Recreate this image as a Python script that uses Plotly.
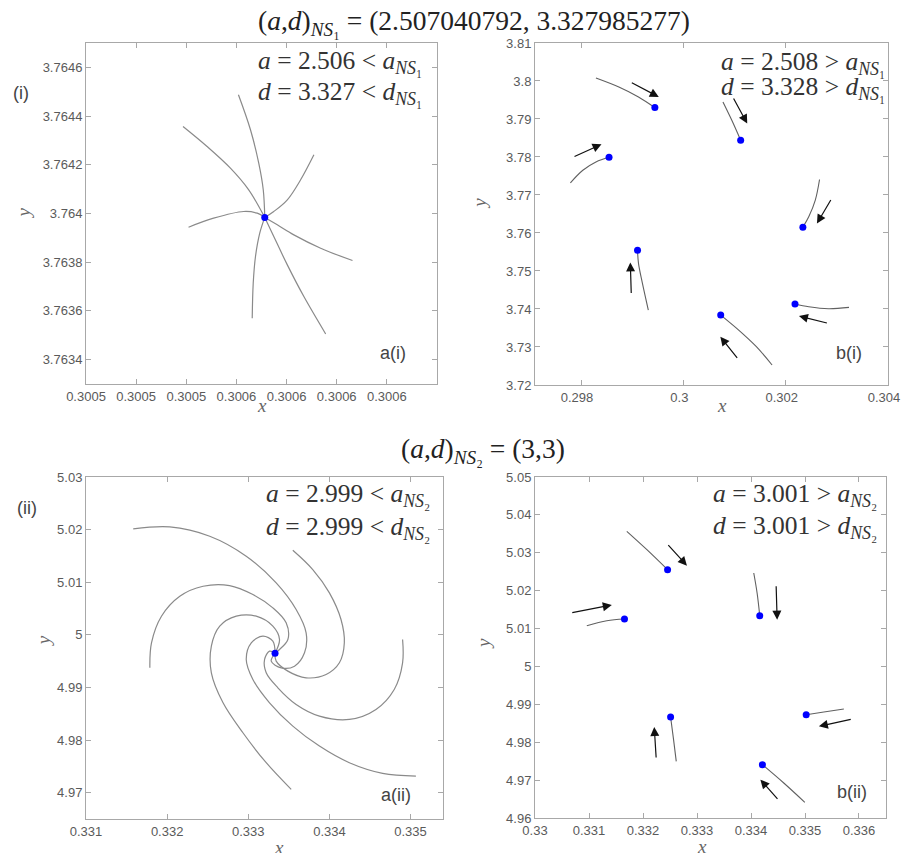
import plotly.graph_objects as go

# ---------------- Panel a(i) ----------------
ai_fixed_x = [0.3005713]
ai_fixed_y = [3.763984]
ai_curves_x = [
    [0.3005387, 0.3005483, 0.3005576, 0.3005649, 0.3005713],
    [0.3005608, 0.3005656, 0.3005689, 0.3005707, 0.3005713],
    [0.3005909, 0.3005856, 0.3005803, 0.3005749, 0.3005713],
    [0.3005409, 0.3005509, 0.3005629, 0.3005683, 0.3005713],
    [0.3006063, 0.3005936, 0.3005829, 0.3005763, 0.3005713],
    [0.3005663, 0.3005667, 0.3005676, 0.3005693, 0.3005713],
    [0.3005956, 0.3005869, 0.3005803, 0.3005749, 0.3005713],
]
ai_curves_y = [
    [3.7643575, 3.7642753, 3.7641863, 3.7640973, 3.763984],
    [3.7644877, 3.7643440, 3.7642068, 3.7640973, 3.763984],
    [3.7642411, 3.7641384, 3.7640562, 3.7640082, 3.763984],
    [3.7639438, 3.7639808, 3.7640082, 3.7640014, 3.763984],
    [3.7638068, 3.7638575, 3.7639123, 3.7639534, 3.763984],
    [3.7635699, 3.7637137, 3.7638233, 3.7639192, 3.763984],
    [3.7635055, 3.7636589, 3.7637890, 3.7639055, 3.763984],
]
ai_xticks = [0.30050, 0.30052, 0.30054, 0.30056, 0.30058, 0.30060, 0.30062]
ai_xticklabels = ["0.3005", "0.3005", "0.3005", "0.3006", "0.3006", "0.3006", "0.3006"]
ai_yticks = [3.7634, 3.7636, 3.7638, 3.7640, 3.7642, 3.7644, 3.7646]
ai_yticklabels = ["3.7634", "3.7636", "3.7638", "3.764", "3.7642", "3.7644", "3.7646"]

# ---------------- Panel b(i) ----------------
bi_fixed_x = [0.299443, 0.301120, 0.298547, 0.302336, 0.299104, 0.302182, 0.300730]
bi_fixed_y = [3.79300, 3.78441, 3.77994, 3.76154, 3.75549, 3.74130, 3.73840]
bi_curves_x = [
    [0.298291, 0.298739, 0.299123, 0.299443],
    [0.300774, 0.300947, 0.301120],
    [0.297792, 0.298035, 0.298291, 0.298547],
    [0.302662, 0.302579, 0.302451, 0.302336],
    [0.299315, 0.299200, 0.299123, 0.299104],
    [0.303238, 0.302835, 0.302451, 0.302182],
    [0.301734, 0.301427, 0.301043, 0.300730],
]
bi_curves_y = [
    [3.80080, 3.79843, 3.79580, 3.79300],
    [3.79449, 3.78967, 3.78441],
    [3.77320, 3.77652, 3.77871, 3.77994],
    [3.77407, 3.76864, 3.76425, 3.76154],
    [3.73972, 3.74673, 3.75199, 3.75549],
    [3.74042, 3.74007, 3.74059, 3.74130],
    [3.72526, 3.73008, 3.73490, 3.73840],
]
bi_arrow_tail_x = [0.298963, 0.300966, 0.297843, 0.302899, 0.298982, 0.302835, 0.301075]
bi_arrow_tail_y = [3.79975, 3.79580, 3.77994, 3.76907, 3.74384, 3.73621, 3.72675]
bi_arrow_head_x = [0.299520, 0.301248, 0.298400, 0.302611, 0.298963, 0.302259, 0.300723]
bi_arrow_head_y = [3.79580, 3.78879, 3.78336, 3.76250, 3.75225, 3.73814, 3.73271]
bi_xticks = [0.298, 0.300, 0.302, 0.304]
bi_xticklabels = ["0.298", "0.3", "0.302", "0.304"]
bi_yticks = [3.72, 3.73, 3.74, 3.75, 3.76, 3.77, 3.78, 3.79, 3.80, 3.81]
bi_yticklabels = ["3.72", "3.73", "3.74", "3.75", "3.76", "3.77", "3.78", "3.79", "3.8", "3.81"]

# ---------------- Panel a(ii) ----------------
aii_fixed_x = [0.33333]
aii_fixed_y = [4.9965]
aii_curves_x = [
    [0.331582, 0.332033, 0.332525, 0.332975, 0.333344, 0.333590, 0.333713, 0.333693, 0.333570, 0.333406, 0.333283, 0.33333],
    [0.333549, 0.333795, 0.334000, 0.334143, 0.334184, 0.334123, 0.333959, 0.333713, 0.333488, 0.333344, 0.33333],
    [0.334902, 0.334902, 0.334799, 0.334574, 0.334246, 0.333877, 0.333590, 0.333365, 0.333221, 0.333201, 0.333262, 0.33333],
    [0.335066, 0.334656, 0.334246, 0.333877, 0.333549, 0.333262, 0.333057, 0.332975, 0.333037, 0.333180, 0.333303, 0.33333],
    [0.333529, 0.333221, 0.332934, 0.332689, 0.332545, 0.332545, 0.332648, 0.332852, 0.333098, 0.333303, 0.333385, 0.33333],
    [0.331787, 0.331807, 0.331930, 0.332156, 0.332443, 0.332770, 0.333057, 0.333303, 0.333467, 0.333488, 0.333385, 0.33333],
]
aii_curves_y = [
    [5.020127, 5.020506, 5.018734, 5.014937, 5.009873, 5.004810, 5.000380, 4.996582, 4.994051, 4.993734, 4.995000, 4.9965],
    [5.016076, 5.012405, 5.007975, 5.002911, 4.998481, 4.994684, 4.992468, 4.991835, 4.993101, 4.995000, 4.9965],
    [4.999114, 4.994684, 4.989620, 4.985823, 4.983924, 4.984557, 4.986772, 4.989937, 4.992785, 4.995316, 4.996899, 4.9965],
    [4.973165, 4.973671, 4.975696, 4.978861, 4.982658, 4.987089, 4.991519, 4.995316, 4.998481, 4.999747, 4.998797, 4.9965],
    [4.970633, 4.975696, 4.981392, 4.987089, 4.992785, 4.997848, 5.001646, 5.003544, 5.003544, 5.001646, 4.999114, 4.9965],
    [4.993734, 4.998481, 5.003544, 5.007342, 5.009240, 5.009367, 5.007658, 5.005127, 5.002278, 4.999114, 4.997215, 4.9965],
]
aii_xticks = [0.331, 0.332, 0.333, 0.334, 0.335]
aii_xticklabels = ["0.331", "0.332", "0.333", "0.334", "0.335"]
aii_yticks = [4.97, 4.98, 4.99, 5.00, 5.01, 5.02, 5.03]
aii_yticklabels = ["4.97", "4.98", "4.99", "5", "5.01", "5.02", "5.03"]

# ---------------- Panel b(ii) ----------------
bii_fixed_x = [0.332455, 0.334162, 0.331657, 0.335022, 0.332511, 0.334211]
bii_fixed_y = [5.02554, 5.01340, 5.01252, 4.98727, 4.98666, 4.97408]
bii_curves_x = [
    [0.331700, 0.332072, 0.332455],
    [0.334051, 0.334113, 0.334162],
    [0.330959, 0.331330, 0.331657],
    [0.335720, 0.335349, 0.335022],
    [0.332616, 0.332566, 0.332511],
    [0.334997, 0.334607, 0.334211],
]
bii_curves_y = [
    [5.03566, 5.03082, 5.02554],
    [5.02466, 5.01938, 5.01340],
    [5.01076, 5.01208, 5.01252],
    [4.98877, 4.98798, 4.98727],
    [4.97496, 4.98068, 4.98666],
    [4.96414, 4.96924, 4.97408],
]
bii_arrow_tail_x = [0.332443, 0.334465, 0.330662, 0.335875, 0.332245, 0.334515]
bii_arrow_tail_y = [5.03240, 5.02158, 5.01411, 4.98613, 4.97557, 4.96466]
bii_arrow_head_x = [0.332814, 0.334484, 0.331422, 0.335257, 0.332208, 0.334174]
bii_arrow_head_y = [5.02660, 5.01235, 5.01622, 4.98420, 4.98402, 4.97012]
bii_xticks = [0.330, 0.331, 0.332, 0.333, 0.334, 0.335, 0.336]
bii_xticklabels = ["0.33", "0.331", "0.332", "0.333", "0.334", "0.335", "0.336"]
bii_yticks = [4.96, 4.97, 4.98, 4.99, 5.00, 5.01, 5.02, 5.03, 5.04, 5.05]
bii_yticklabels = ["4.96", "4.97", "4.98", "4.99", "5", "5.01", "5.02", "5.03", "5.04", "5.05"]

# ---------------- Styles ----------------
SERIF = "Liberation Serif, Times New Roman, serif"
SANS = "Liberation Sans, Arial, sans-serif"
FRAME = "#a8a8a8"
TICKTXT = "#5a5a5a"
CURVE_A = "#8a8a8a"
CURVE_B = "#606060"
BLUE = "#0000ff"

fig = go.Figure()

panels = [
    ("x", "y", ai_curves_x, ai_curves_y, ai_fixed_x, ai_fixed_y, CURVE_A, 1.2),
    ("x2", "y2", bi_curves_x, bi_curves_y, bi_fixed_x, bi_fixed_y, CURVE_B, 1.1),
    ("x3", "y3", aii_curves_x, aii_curves_y, aii_fixed_x, aii_fixed_y, CURVE_A, 1.2),
    ("x4", "y4", bii_curves_x, bii_curves_y, bii_fixed_x, bii_fixed_y, CURVE_B, 1.1),
]
for xa, ya, cx, cy, fx, fy, col, w in panels:
    for xs, ys in zip(cx, cy):
        fig.add_trace(go.Scatter(x=xs, y=ys, mode="lines", xaxis=xa, yaxis=ya,
                                 line=dict(color=col, width=w, shape="spline", smoothing=1.0),
                                 showlegend=False, hoverinfo="skip"))
    fig.add_trace(go.Scatter(x=fx, y=fy, mode="markers", xaxis=xa, yaxis=ya,
                             marker=dict(color=BLUE, size=7), showlegend=False))

annotations = []
for xa, ya, tx, ty, hx, hy in [
    ("x2", "y2", bi_arrow_tail_x, bi_arrow_tail_y, bi_arrow_head_x, bi_arrow_head_y),
    ("x4", "y4", bii_arrow_tail_x, bii_arrow_tail_y, bii_arrow_head_x, bii_arrow_head_y),
]:
    for x0, y0, x1, y1 in zip(tx, ty, hx, hy):
        annotations.append(dict(x=x1, y=y1, ax=x0, ay=y0, xref=xa, yref=ya, axref=xa, ayref=ya,
                                text="", showarrow=True, arrowhead=2, arrowsize=1.5,
                                arrowwidth=1.2, arrowcolor="#111111", standoff=0, startstandoff=0))


def axis(domain, rng, tv, tt, anchor, shift=0):
    return dict(domain=domain, range=rng, tickvals=tv, ticktext=tt, anchor=anchor,
                showline=True, linecolor=FRAME, linewidth=1, mirror="allticks",
                ticks="inside", ticklen=5, tickcolor=FRAME, showgrid=False, zeroline=False,
                tickfont=dict(family=SANS, size=13, color=TICKTXT),
                ticklabeloverflow="allow", ticklabelshift=shift,
                automargin=False, fixedrange=True)


# figure is 16px smaller than the window to leave room for the page's default 8px body margin
fig.update_layout(
    width=893, height=845,
    margin=dict(l=0, r=0, t=0, b=0),
    paper_bgcolor="white", plot_bgcolor="white",
    xaxis=axis([0.08735, 0.48040], [0.30050, 0.30064], ai_xticks, ai_xticklabels, "y"),
    yaxis=axis([0.55503, 0.95858], [3.7633, 3.7647], ai_yticks, ai_yticklabels, "x"),
    xaxis2=axis([0.59015, 0.98544], [0.2971, 0.3040], bi_xticks, bi_xticklabels, "y2", shift=-4),
    yaxis2=axis([0.55385, 0.95858], [3.72, 3.81], bi_yticks, bi_yticklabels, "x2"),
    xaxis3=axis([0.08735, 0.48712], [0.331, 0.3354], aii_xticks, aii_xticklabels, "y3"),
    yaxis3=axis([0.04024, 0.44497], [4.965, 5.03], aii_yticks, aii_yticklabels, "x3"),
    xaxis4=axis([0.59015, 0.98320], [0.330, 0.3365], bii_xticks, bii_xticklabels, "y4"),
    yaxis4=axis([0.04142, 0.44497], [4.96, 5.05], bii_yticks, bii_yticklabels, "x4"),
)

sub1 = "<sub><i>NS</i>₁</sub>"
sub2 = "<sub><i>NS</i>₂</sub>"
TXT = dict(family=SERIF, size=25.5, color="#333333")
TITLE = dict(family=SERIF, size=27.5, color="#222222")
LBL = dict(family=SANS, size=18, color="#444444")
AXT = dict(family=SERIF, size=19, color="#666666")

texts = [
    # global titles
    dict(x=0.5218, y=0.9834, xref="paper", yref="paper",
         text="(<i>a</i>,<i>d</i>)" + sub1 + " = (2.507040792, 3.327985277)", font=TITLE, xanchor="center"),
    dict(x=0.5319, y=0.4769, xref="paper", yref="paper",
         text="(<i>a</i>,<i>d</i>)" + sub2 + " = (3,3)", font=TITLE, xanchor="center"),
    dict(x=0.0142, y=0.899, xref="paper", yref="paper", text="(i)", font=LBL, xanchor="center"),
    dict(x=0.0209, y=0.4083, xref="paper", yref="paper", text="(ii)", font=LBL, xanchor="center"),
    # a(i)
    dict(x=0.962, y=0.945, xref="x domain", yref="y domain",
         text="<i>a</i> = 2.506 &lt; <i>a</i>" + sub1, font=TXT, xanchor="right"),
    dict(x=0.962, y=0.853, xref="x domain", yref="y domain",
         text="<i>d</i> = 3.327 &lt; <i>d</i>" + sub1, font=TXT, xanchor="right"),
    dict(x=0.875, y=0.091, xref="x domain", yref="y domain", text="a(i)", font=LBL, xanchor="center"),
    dict(x=0.5, y=0, yshift=-22, xref="x domain", yref="y domain", text="<i>x</i>", font=AXT, xanchor="center"),
    dict(x=0, y=0.5, xshift=-63, xref="x domain", yref="y domain", text="<i>y</i>", font=AXT,
         xanchor="center", textangle=-90),
    # b(i)
    dict(x=0.996, y=0.941, xref="x2 domain", yref="y2 domain",
         text="<i>a</i> = 2.508 &gt; <i>a</i>" + sub1, font=TXT, xanchor="right"),
    dict(x=0.996, y=0.868, xref="x2 domain", yref="y2 domain",
         text="<i>d</i> = 3.328 &gt; <i>d</i>" + sub1, font=TXT, xanchor="right"),
    dict(x=0.89, y=0.094, xref="x2 domain", yref="y2 domain", text="b(i)", font=LBL, xanchor="center"),
    dict(x=0.529, y=0, yshift=-21, xref="x2 domain", yref="y2 domain", text="<i>x</i>", font=AXT, xanchor="center"),
    dict(x=0, y=0.53, xshift=-55, xref="x2 domain", yref="y2 domain", text="<i>y</i>", font=AXT,
         xanchor="center", textangle=-90),
    # a(ii)
    dict(x=0.968, y=0.947, xref="x3 domain", yref="y3 domain",
         text="<i>a</i> = 2.999 &lt; <i>a</i>" + sub2, font=TXT, xanchor="right"),
    dict(x=0.968, y=0.850, xref="x3 domain", yref="y3 domain",
         text="<i>d</i> = 2.999 &lt; <i>d</i>" + sub2, font=TXT, xanchor="right"),
    dict(x=0.868, y=0.070, xref="x3 domain", yref="y3 domain", text="a(ii)", font=LBL, xanchor="center"),
    dict(x=0.54, y=0, yshift=-29, xref="x3 domain", yref="y3 domain", text="<i>x</i>", font=AXT, xanchor="center"),
    dict(x=0, y=0.52, xshift=-43, xref="x3 domain", yref="y3 domain", text="<i>y</i>", font=AXT,
         xanchor="center", textangle=-90),
    # b(ii)
    dict(x=0.98, y=0.947, xref="x4 domain", yref="y4 domain",
         text="<i>a</i> = 3.001 &gt; <i>a</i>" + sub2, font=TXT, xanchor="right"),
    dict(x=0.98, y=0.854, xref="x4 domain", yref="y4 domain",
         text="<i>d</i> = 3.001 &gt; <i>d</i>" + sub2, font=TXT, xanchor="right"),
    dict(x=0.903, y=0.076, xref="x4 domain", yref="y4 domain", text="b(ii)", font=LBL, xanchor="center"),
    dict(x=0.475, y=0, yshift=-28, xref="x4 domain", yref="y4 domain", text="<i>x</i>", font=AXT, xanchor="center"),
    dict(x=0, y=0.51, xshift=-52, xref="x4 domain", yref="y4 domain", text="<i>y</i>", font=AXT,
         xanchor="center", textangle=-90),
]
for t in texts:
    t.update(showarrow=False, yanchor="middle")
    annotations.append(t)

fig.update_layout(annotations=annotations)
fig.write_html("out.html")
